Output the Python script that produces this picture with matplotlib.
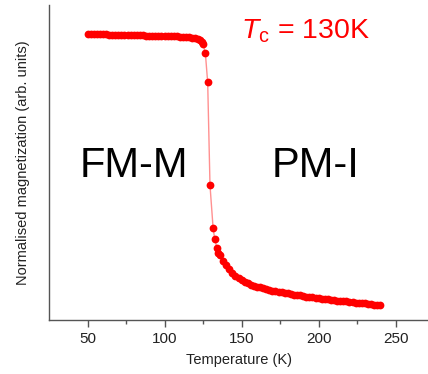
import numpy as np
import matplotlib.pyplot as plt

plt.rcParams['font.family'] = ['Liberation Sans', 'DejaVu Sans']
plt.rcParams['mathtext.fontset'] = 'custom'
plt.rcParams['mathtext.rm'] = 'Liberation Sans'
plt.rcParams['mathtext.it'] = 'Liberation Sans:italic'

# ferromagnetic metal side (K, arb. units)
temp_fm = [50, 52, 54, 56, 58, 60, 62, 64, 66, 68, 70, 72, 74, 76, 78, 80,
           82, 84, 86, 88, 90, 92, 94, 96, 98, 100, 102, 104, 106, 108, 110,
           112, 114, 116, 118, 120, 122, 123, 124, 125]
mag_fm = [0.998, 0.998, 0.998, 0.997, 0.997, 0.997, 0.997, 0.996, 0.996,
          0.996, 0.996, 0.995, 0.995, 0.995, 0.995, 0.994, 0.994, 0.994,
          0.994, 0.993, 0.993, 0.993, 0.992, 0.992, 0.992, 0.991, 0.991,
          0.991, 0.990, 0.990, 0.989, 0.989, 0.988, 0.987, 0.986, 0.984,
          0.980, 0.976, 0.970, 0.962]

# transition
temp_tr = [126.5, 128, 129.5, 131.5, 132.5, 134]
mag_tr = [0.931, 0.829, 0.469, 0.321, 0.283, 0.250]

# paramagnetic insulator side
temp_pm = [135, 136, 138, 140, 142, 144, 146, 148, 150, 152, 154, 156, 158,
           160, 162, 164, 166, 168, 170, 172, 174, 176, 178, 180, 182, 184,
           186, 188, 190, 192, 194, 196, 198, 200, 202, 204, 206, 208, 210,
           212, 214, 216, 218, 220, 222, 224, 226, 228, 230, 232, 234, 236,
           238, 240]
mag_pm = [0.232, 0.224, 0.205, 0.189, 0.175, 0.163, 0.153, 0.145, 0.138,
          0.132, 0.127, 0.122, 0.118, 0.115, 0.112, 0.109, 0.106, 0.104,
          0.101, 0.099, 0.097, 0.095, 0.093, 0.091, 0.089, 0.087, 0.086,
          0.084, 0.082, 0.080, 0.079, 0.077, 0.076, 0.074, 0.073, 0.071,
          0.070, 0.068, 0.067, 0.066, 0.065, 0.064, 0.063, 0.061, 0.060,
          0.059, 0.058, 0.057, 0.056, 0.055, 0.053, 0.052, 0.051, 0.050]

temp = np.array(temp_fm + temp_tr + temp_pm)
mag = np.array(mag_fm + mag_tr + mag_pm)

fig = plt.figure(figsize=(4.28, 3.74), dpi=100)
ax = fig.add_axes([49 / 428, 1 - 319.5 / 374, 1 - 49 / 428, 314.5 / 374])

ax.plot(temp, mag, '-', color='#ff9090', linewidth=1.0, zorder=1)
ax.plot(temp, mag, 'o', color='#ff0000', markersize=5.6, markeredgewidth=0, zorder=2)

ax.set_xlim(25, 271)
ax.set_ylim(0, 1.1)

for side in ['top', 'right']:
    ax.spines[side].set_visible(False)
for side in ['left', 'bottom']:
    ax.spines[side].set_color('#555555')
    ax.spines[side].set_linewidth(1.0)

ax.set_yticks([])
ax.set_xticks([50, 100, 150, 200, 250])
ax.set_xticks([75, 125, 175, 225], minor=True)
ax.tick_params(axis='x', which='major', direction='out', length=5, width=1,
               color='#555555', labelsize=11, labelcolor='#222222', pad=4)
ax.tick_params(axis='x', which='minor', direction='out', length=3, width=1,
               color='#555555')

ax.set_xlabel('Temperature (K)', fontsize=10.5, color='#222222', labelpad=5)
ax.set_ylabel('Normalised magnetization (arb. units)', fontsize=10.5,
              color='#222222', labelpad=14)

ax.text(45, 0.50, 'FM-M', fontsize=30, color='black', ha='left', va='baseline')
ax.text(169.5, 0.50, 'PM-I', fontsize=30, color='black', ha='left', va='baseline')
ax.text(149.5, 0.9836, r'$\mathit{T}_\mathrm{c}$ = 130K', fontsize=20.5,
        color='#ff0000', ha='left', va='baseline')

fig.savefig('out.png', dpi=100)
